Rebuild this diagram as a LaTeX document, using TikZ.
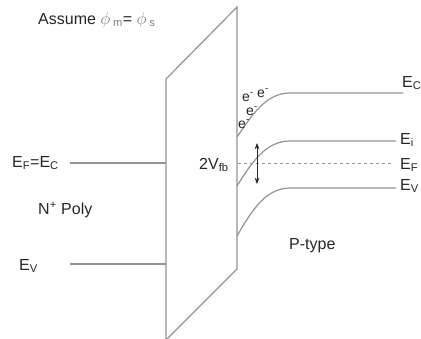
\documentclass[tikz,border=0pt]{standalone}
\usepackage{fontspec}
\setmainfont{Liberation Sans}
\usetikzlibrary{arrows.meta}

\newcommand{\elneg}{e\textsuperscript{-}}

\begin{document}
\begin{tikzpicture}[
  x=1pt, y=-1pt,
  band/.style={draw=gray!85, line width=1.2pt},
  lbl/.style={anchor=west, inner sep=0pt, text=black!85, font=\fontsize{16}{18}\selectfont},
  elec/.style={inner sep=0pt, text=black!85, font=\fontsize{14}{15}\selectfont},
  arrow/.style={{Stealth[length=2.2mm]}-{Stealth[length=2.2mm]}, line width=0.8pt, black!85}
]
\useasboundingbox (0,0) rectangle (421,339);
% oxide
\begin{scope}
\clip (0,0) rectangle (421,339);
\draw[band] (166,79) -- (237,7) -- (237,269) -- (166,340) -- cycle;
\end{scope}
% gate side
\coordinate (gf) at (70,163);
\coordinate (gv) at (70,264);
\draw[band] (gf) -- (166,163);
\draw[band] (gv) -- (166,264);
\node[lbl] (efec) at (12,163) {E\textsubscript{F}=E\textsubscript{C}};
\node[lbl] (poly) at (38,210) {N\textsuperscript{+} Poly};
\node[lbl] (ev) at (19,266) {E\textsubscript{V}};
% substrate bands
\draw[band] (237,137) .. controls (252,115) and (266,93) .. (290,93) -- (403,93);
\draw[band] (237,186) .. controls (252,162) and (266,141) .. (290,141) -- (396,141);
\draw[band] (237,236) .. controls (252,210) and (266,188) .. (290,188) -- (396,188);
\draw[band, dashed, line width=0.9pt] (238,163) -- (392,163);
\node[lbl] (ec) at (402,83) {E\textsubscript{C}};
\node[lbl] (ei) at (400,140) {E\textsubscript{i}};
\node[lbl] (ef) at (400,165) {E\textsubscript{F}};
\node[lbl] (evp) at (400,186) {E\textsubscript{V}};
\node[lbl] (ptype) at (289,246) {P-type};
% flat band voltage
\coordinate (top) at (257,143);
\coordinate (bot) at (257,184);
\draw[arrow] (top) -- (bot);
\node[lbl] (vfb) at (199,165) {2V\textsubscript{fb}};
% electrons
\node[elec] (e1) at (244,124) {\elneg};
\node[elec] (e2) at (252,111) {\elneg};
\node[elec] (e3) at (248,97) {\elneg};
\node[elec] (e4) at (263,93) {\elneg};
% title
\node[lbl] (title) at (38,20) {Assume {\color{gray}$\phi$\,\textsubscript{m}}= {\color{gray}$\phi$\,\textsubscript{s}}};
\end{tikzpicture}
\end{document}
